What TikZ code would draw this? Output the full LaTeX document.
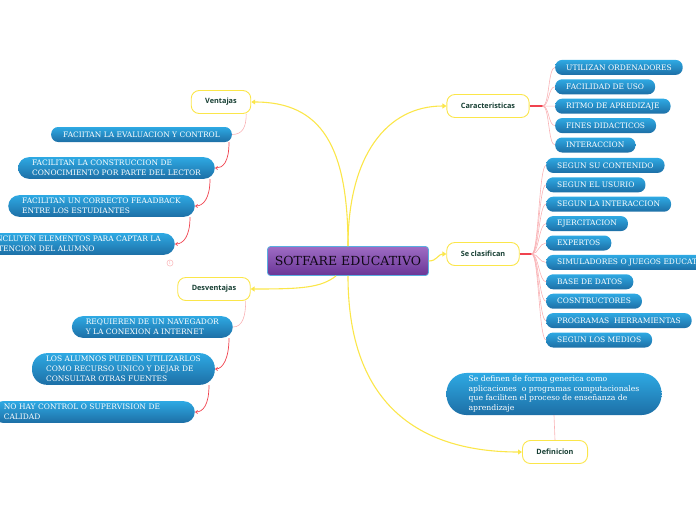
\documentclass[tikz,border=0pt]{standalone}
\usepackage{fontspec}
\setmainfont{DejaVu Serif}
\newfontfamily\topicfont{Open Sans}
\usetikzlibrary{arrows.meta,positioning}
\definecolor{LeafTop}{HTML}{2EA9E3}
\definecolor{LeafBot}{HTML}{1D6FA6}
\definecolor{TopicLine}{HTML}{FBE64A}
\definecolor{TopicText}{HTML}{173F33}
\definecolor{RootTop}{HTML}{9E6CC4}
\definecolor{RootBot}{HTML}{6A3596}
\definecolor{RootEdge}{HTML}{5AAEE0}
\definecolor{Twig}{HTML}{F0434F}
\definecolor{TwigLight}{HTML}{F9B3B6}
\tikzset{
  rootbox/.style={draw=RootEdge,line width=0.8pt,top color=RootTop,bottom color=RootBot,rounded corners=3pt,minimum width=161pt,minimum height=29pt,text=black!85!RootBot,font=\fontsize{12.5}{14}\selectfont},
  topic/.style={draw=TopicLine,line width=0.9pt,fill=white,rounded corners=8pt,minimum height=23pt,inner xsep=14pt,text=TopicText,font=\topicfont\bfseries\fontsize{7.3}{8}\selectfont},
  leaf/.style={draw=none,top color=LeafTop,bottom color=LeafBot,rounded corners=7pt,text=white,align=left,inner xsep=11pt,inner ysep=3pt,minimum height=15pt,font=\fontsize{7.5}{10}\selectfont},
  tallleaf/.style={leaf,rounded corners=11pt,inner xsep=14pt},
  branch/.style={draw=TopicLine,line width=1.1pt,-{Triangle[length=4pt,width=5pt]}},
  twig/.style={draw=Twig,line width=0.7pt,-{Straight Barb[length=2pt,width=3pt]}},
  stub/.style={draw=Twig,line width=1.4pt},
  fan/.style={draw=TwigLight,line width=0.6pt},
}
\begin{document}
\begin{tikzpicture}[x=1pt,y=-1pt]
  \useasboundingbox (0,0) rectangle (696,520);
  \clip (0,0) rectangle (696,520);
  % main topics
  \node[rootbox] (root) at (348,261) {SOTFARE EDUCATIVO};
  \node[topic] (vent) at (221,102) {Ventajas};
  \node[topic] (desv) at (214,289) {Desventajas};
  \node[topic] (carac) at (488,106) {Caracteristicas};
  \node[topic] (clasif) at (483,254) {Se clasifican};
  \node[topic] (defin) at (555,452) {Definicion};
  \draw[branch] (root.north) .. controls +(0,-100) and +(70,0) .. (vent.east);
  \draw[branch] (root.north) .. controls +(0,-90) and +(-60,0) .. (carac.west);
  \draw[branch] (root.east) .. controls +(8,0) and +(-8,0) .. (clasif.west);
  \draw[branch] ([xshift=-12pt]root.south) .. controls +(-15,12) and +(50,0) .. (desv.east);
  \draw[branch] (root.south) .. controls +(0,140) and +(-90,0) .. (defin.west);
  % ventajas
  \node[leaf,inner xsep=12pt,anchor=east] (v1) at (232,134.5) {FACIITAN LA EVALUACION Y CONTROL};
  \node[tallleaf,anchor=east] (v2) at (215,168) {FACILITAN LA CONSTRUCCION DE\\CONOCIMIENTO POR PARTE DEL LECTOR};
  \node[tallleaf,anchor=east] (v3) at (195,206) {FACILITAN UN CORRECTO FEAADBACK\\ENTRE LOS ESTUDIANTES};
  \node[tallleaf,anchor=east] (v4) at (175,244) {INCLUYEN ELEMENTOS PARA CAPTAR LA\\ATENCION DEL ALUMNO};
  \node[circle,draw=TwigLight,line width=0.5pt,inner sep=0.8pt,text=TwigLight,font=\fontsize{4}{4}\selectfont] (badge) at (170,263) {1};
  \draw[fan] ([xshift=-5pt]vent.south east) .. controls +(0,14) and +(10,0) .. (v1.east);
  \draw[twig] ([xshift=-3pt]v1.south east) .. controls +(0,20) and +(8,0) .. (v2.east);
  \draw[twig] ([xshift=-5pt]v2.south east) .. controls +(0,20) and +(8,0) .. (v3.east);
  \draw[twig] ([xshift=-5pt]v3.south east) .. controls +(0,20) and +(8,0) .. (v4.east);
  % desventajas
  \node[tallleaf,anchor=east] (d1) at (233,327) {REQUIEREN DE UN NAVEGADOR\\Y LA CONEXION A INTERNET};
  \node[leaf,rounded corners=15pt,inner xsep=14pt,anchor=east] (d2) at (215,369) {LOS ALUMNOS PUEDEN UTILIZARLOS\\COMO RECURSO UNICO Y DEJAR DE\\CONSULTAR OTRAS FUENTES};
  \node[tallleaf,inner xsep=12pt,text width=179pt,anchor=east] (d3) at (195,412) {NO HAY CONTROL O SUPERVISION DE\\CALIDAD};
  \draw[fan] ([xshift=-5pt]desv.south east) .. controls +(0,14) and +(10,0) .. (d1.east);
  \draw[twig] ([xshift=-4pt]d1.south east) .. controls +(0,20) and +(8,0) .. (d2.east);
  \draw[twig] ([xshift=-6pt]d2.south east) .. controls +(0,20) and +(8,0) .. (d3.east);
  % caracteristicas
  \foreach \txt [count=\i] in {UTILIZAN ORDENADORES,FACILIDAD DE USO,RITMO DE APREDIZAJE,FINES DIDACTICOS,INTERACCION}
    \node[leaf,anchor=west] (c\i) at (555,{48+19.4*\i}) {\txt};
  \coordinate (cfork) at ([xshift=13pt]carac.east);
  \draw[stub] (carac.east) -- (cfork);
  \foreach \i in {1,...,5}
    \draw[fan] (cfork) .. controls +(7,0) and +(-7,0) .. (c\i.west);
  % se clasifican
  \foreach \txt [count=\i] in {SEGUN SU CONTENIDO,SEGUN EL USURIO,SEGUN LA INTERACCION,EJERCITACION,EXPERTOS,SIMULADORES O JUEGOS EDUCATIVOS,BASE DE DATOS,COSNTRUCTORES,PROGRAMAS\ \ HERRAMIENTAS,SEGUN LOS MEDIOS}
    \node[leaf,anchor=west] (s\i) at (546,{146+19.4*\i}) {\txt};
  \coordinate (sfork) at ([xshift=12pt]clasif.east);
  \draw[stub] (clasif.east) -- (sfork);
  \foreach \i in {1,...,10}
    \draw[fan] (sfork) .. controls +(7,0) and +(-7,0) .. (s\i.west);
  % definicion
  \node[leaf,rounded corners=20pt,inner xsep=18pt,minimum width=215pt,font=\fontsize{7.7}{9.5}\selectfont] (dtext) at (554,394) {Se definen de forma generica como\\aplicaciones\ \ o programas computacionales\\que faciliten el proceso de enseñanza de\\aprendizaje};
  \draw[fan] (defin.north) -- (dtext.south);
\end{tikzpicture}
\end{document}
